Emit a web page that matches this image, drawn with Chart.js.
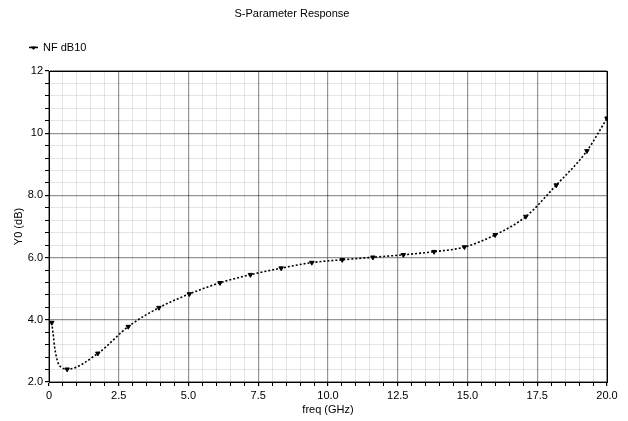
<!DOCTYPE html>
<html>
<head>
<meta charset="utf-8">
<script src="https://cdn.jsdelivr.net/npm/chart.js@4"></script>
<style>
  html, body { margin: 0; padding: 0; background: #fff; }
  #wrap { width: 628px; height: 421px; }
</style>
</head>
<body>
<div id="wrap"><canvas id="c" width="628" height="421"></canvas></div>
<script>
// ---- data ----
const chartTitle = "S-Parameter Response";
const seriesLabel = "NF dB10";
const xTitle = "freq (GHz)";
const yTitle = "Y0 (dB)";

// marker points (GHz, dB)
const markerFreq = [0.1, 0.65, 1.75, 2.84, 3.94, 5.03, 6.13, 7.22, 8.32, 9.42, 10.51, 11.61, 12.7, 13.8, 14.89, 15.99, 17.09, 18.18, 19.28, 20.0];
const markerNF   = [3.91, 2.41, 2.92, 3.78, 4.39, 4.83, 5.19, 5.45, 5.66, 5.84, 5.93, 6.01, 6.09, 6.19, 6.34, 6.73, 7.32, 8.33, 9.43, 10.48];

// extra points in the low-frequency dip (no markers there)
const dipFreq = [0.13, 0.16, 0.2, 0.25, 0.33, 0.45];
const dipNF   = [3.67, 3.46, 3.13, 2.87, 2.6, 2.47];

// axis ranges / ticks
const xMin = 0, xMax = 20, xMajor = 2.5, xMinor = 0.5;
const yMin = 2, yMax = 12, yMajor = 2, yMinor = 0.4;

// ---- build datasets ----
const markerPts = markerFreq.map((f, i) => ({ x: f, y: markerNF[i] }));
const curvePts = markerPts.concat(dipFreq.map((f, i) => ({ x: f, y: dipNF[i] })))
  .sort((a, b) => a.x - b.x);

const FONT = '"Liberation Sans", Arial, sans-serif';
const isMult = (v, s) => Math.abs(v / s - Math.round(v / s)) < 1e-6;

const decor = {
  id: 'decor',
  afterDraw(chart) {
    const c = chart.ctx;
    c.save();
    c.fillStyle = '#000';
    c.strokeStyle = '#000';
    c.font = '11px ' + FONT;
    c.textBaseline = 'middle';
    c.textAlign = 'center';
    c.fillText(chartTitle, 292, 14);
    // legend
    c.lineWidth = 1.5;
    c.beginPath(); c.moveTo(29, 47.5); c.lineTo(38, 47.5); c.stroke();
    c.beginPath(); c.moveTo(30.5, 46.5); c.lineTo(36.5, 46.5); c.lineTo(33.5, 50); c.closePath(); c.fill();
    c.textAlign = 'left';
    c.fillText(seriesLabel, 43, 47.5);
    // frame
    const a = chart.chartArea;
    c.lineWidth = 1;
    c.strokeRect(Math.round(a.left) + 0.5, Math.round(a.top) + 0.5, Math.round(a.right - a.left), Math.round(a.bottom - a.top));
    c.restore();
  }
};

new Chart(document.getElementById('c'), {
  type: 'line',
  data: {
    datasets: [
      {
        label: seriesLabel,
        data: curvePts,
        borderColor: '#000',
        borderWidth: 1.6,
        borderDash: [2, 2],
        pointRadius: 0,
        fill: false,
        cubicInterpolationMode: 'monotone'
      },
      {
        label: seriesLabel + ' markers',
        data: markerPts,
        showLine: false,
        pointStyle: 'triangle',
        rotation: 180,
        pointRadius: 2.6,
        pointBackgroundColor: '#000',
        pointBorderColor: '#000',
        pointBorderWidth: 1
      }
    ]
  },
  plugins: [decor],
  options: {
    responsive: false,
    animation: false,
    layout: { padding: { top: 71, right: 21, left: 0, bottom: 0 } },
    plugins: {
      legend: { display: false },
      title: { display: false },
      tooltip: { enabled: false }
    },
    scales: {
      x: {
        type: 'linear',
        min: xMin, max: xMax,
        afterFit(s) { s.height = 39; },
        ticks: {
          stepSize: xMinor,
          autoSkip: false,
          maxRotation: 0,
          padding: 3,
          color: '#000',
          font: { family: FONT, size: 11 },
          callback: (v) => isMult(v, xMajor) ? (v === 0 ? '0' : v.toFixed(1)) : ''
        },
        grid: {
          color: (ctx) => isMult(ctx.tick.value, xMajor) ? 'rgba(0,0,0,0.42)' : 'rgba(0,0,0,0.1)',
          lineWidth: (ctx) => isMult(ctx.tick.value, xMajor) ? 1.2 : 1,
          tickColor: '#000',
          tickLength: 4
        },
        border: { color: '#000', width: 1 },
        title: {
          display: true, text: xTitle, color: '#000',
          font: { family: FONT, size: 11 },
          padding: { top: 0, bottom: 4 }
        }
      },
      y: {
        type: 'linear',
        min: yMin, max: yMax,
        afterFit(s) { s.width = 49; },
        ticks: {
          stepSize: yMinor,
          autoSkip: false,
          padding: 2,
          color: '#000',
          font: { family: FONT, size: 11 },
          callback: (v) => isMult(v, yMajor) ? (v >= 10 ? String(Math.round(v)) : v.toFixed(1)) : ''
        },
        grid: {
          color: (ctx) => isMult(ctx.tick.value, yMajor) ? 'rgba(0,0,0,0.42)' : 'rgba(0,0,0,0.1)',
          lineWidth: (ctx) => isMult(ctx.tick.value, yMajor) ? 1.2 : 1,
          tickColor: '#000',
          tickLength: 4
        },
        border: { color: '#000', width: 1 },
        title: {
          display: true, text: yTitle, color: '#000',
          font: { family: FONT, size: 11 },
          padding: { top: 12, bottom: 0 }
        }
      }
    }
  }
});
</script>
</body>
</html>
